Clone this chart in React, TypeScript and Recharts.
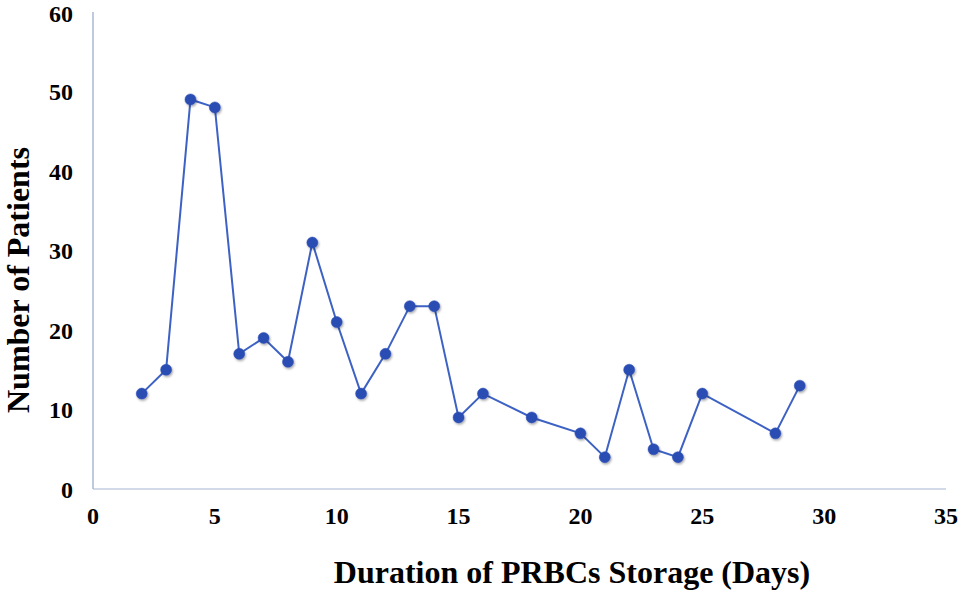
import React from 'react';
import { LineChart, Line, XAxis, YAxis, Label } from 'recharts';

const days = [2, 3, 4, 5, 6, 7, 8, 9, 10, 11, 12, 13, 14, 15, 16, 18, 20, 21, 22, 23, 24, 25, 28, 29];
const patients = [12, 15, 49, 48, 17, 19, 16, 31, 21, 12, 17, 23, 23, 9, 12, 9, 7, 4, 15, 5, 4, 12, 7, 13];
const xTicks = [0, 5, 10, 15, 20, 25, 30, 35];
const yTicks = [0, 10, 20, 30, 40, 50, 60];

const data = days.map((d, i) => ({ day: d, count: patients[i] }));

const FONT = '"Liberation Serif", "Times New Roman", serif';

export default function App() {
  return (
    <div style={{ position: 'absolute', left: 0, top: 0, width: 960, height: 594, background: '#fff' }}>
      <LineChart width={960} height={594} data={data} margin={{ top: 12, right: 14, left: 0, bottom: 0 }}>
        <defs>
          <filter id="dotShadow" x="-50%" y="-50%" width="200%" height="200%">
            <feDropShadow dx="1" dy="1.5" stdDeviation="1" floodColor="#000" floodOpacity="0.35" />
          </filter>
        </defs>
        <XAxis
          dataKey="day"
          type="number"
          domain={[0, 35]}
          ticks={xTicks}
          height={105}
          axisLine={{ stroke: '#C3CEE2', strokeWidth: 1.5 }}
          tickLine={false}
          tickSize={0}
          tickMargin={18}
          tick={{ fill: '#000', fontFamily: FONT, fontWeight: 'bold', fontSize: 24 }}
        >
          <Label
            content={() => (
              <text x={572} y={583} textAnchor="middle" fontFamily={FONT} fontWeight="bold" fontSize={32} fill="#000">
                Duration of PRBCs Storage (Days)
              </text>
            )}
          />
        </XAxis>
        <YAxis
          type="number"
          domain={[0, 60]}
          ticks={yTicks}
          width={93}
          axisLine={{ stroke: '#A9B8D2', strokeWidth: 1.5 }}
          tickLine={false}
          tickSize={0}
          tickMargin={20}
          tick={{ fill: '#000', fontFamily: FONT, fontWeight: 'bold', fontSize: 24 }}
        >
          <Label
            content={() => (
              <text
                x={29}
                y={280}
                transform="rotate(-90 29 280)"
                textAnchor="middle"
                fontFamily={FONT}
                fontWeight="bold"
                fontSize={32}
                fill="#000"
              >
                Number of Patients
              </text>
            )}
          />
        </YAxis>
        <Line
          dataKey="count"
          stroke="#3D62C4"
          strokeWidth={2}
          isAnimationActive={false}
          dot={{ r: 5.5, fill: '#2A4DB4', stroke: '#2A4DB4', strokeWidth: 0.5, filter: 'url(#dotShadow)' }}
          activeDot={false}
        />
      </LineChart>
    </div>
  );
}
